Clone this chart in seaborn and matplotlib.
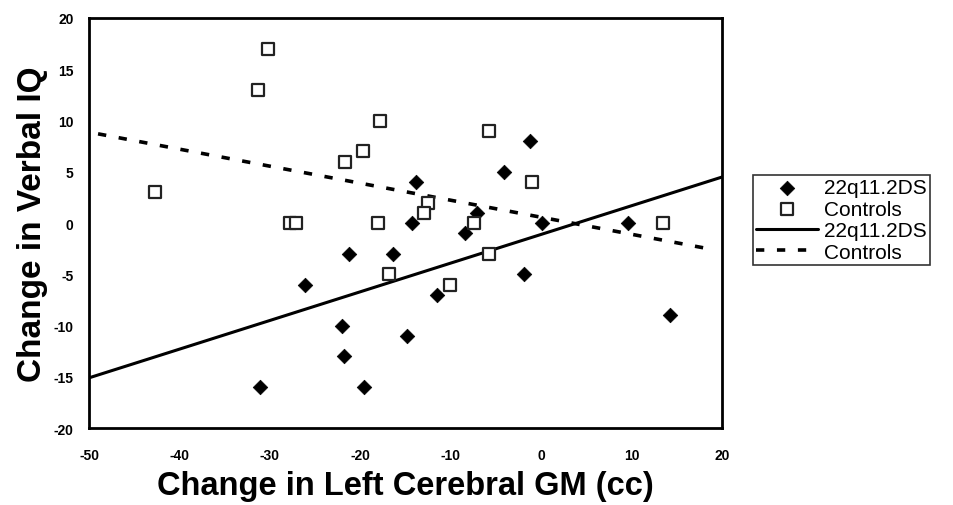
import matplotlib
matplotlib.use("Agg")
import matplotlib.pyplot as plt
import numpy as np
import pandas as pd
import seaborn as sns

# 22q11.2DS group (filled diamonds)
ds_gm = [-1.3, -4.1, -13.9, -14.3, -7.1, 0.1, 9.6, -8.5, -1.9, -11.5,
         -14.9, 14.2, -21.3, -16.4, -26.1, -22.0, -21.8, -31.1, -19.6]
ds_iq = [8, 5, 4, 0, 1, 0, 0, -1, -5, -7,
         -11, -9, -3, -3, -6, -10, -13, -16, -16]

# control group (open squares)
ctrl_gm = [-30.2, -31.3, -42.7, -17.8, -19.7, -21.7, -27.8, -27.1, -18.1,
           -16.9, -12.5, -13.0, -7.5, -5.8, -1.1, -5.8, -10.1, 13.4]
ctrl_iq = [17, 13, 3, 10, 7, 6, 0, 0, 0,
           -5, 2, 1, 0, 9, 4, -3, -6, 0]

# fitted lines, end points
fit_gm = [-50, 20]
fit_ds = [-15.1, 4.5]
fit_ctrl_gm = [-49, 19]
fit_ctrl = [8.7, -2.6]

sns.set_style("white")
plt.rcParams["font.family"] = ["Liberation Sans", "DejaVu Sans"]
plt.rcParams["axes.unicode_minus"] = False
plt.rcParams["text.color"] = "black"
plt.rcParams["axes.labelcolor"] = "black"
plt.rcParams["xtick.color"] = "black"
plt.rcParams["ytick.color"] = "black"

fig = plt.figure(figsize=(9.54, 5.06), dpi=100)
ax = fig.add_axes([0.0933, 0.152, 0.664, 0.8105])

sns.scatterplot(x=ds_gm, y=ds_iq, marker="D", s=55, color="black",
                edgecolor="black", linewidth=0.5, label="22q11.2DS", ax=ax, zorder=3)
sns.scatterplot(x=ctrl_gm, y=ctrl_iq, marker="s", s=70, facecolor="white",
                edgecolor="#222222", linewidth=1.6, label="Controls", ax=ax, zorder=3)
sns.lineplot(x=fit_gm, y=fit_ds, color="black", linewidth=2.2,
             label="22q11.2DS", ax=ax, zorder=2)
sns.lineplot(x=fit_ctrl_gm, y=fit_ctrl, color="black", linewidth=2.6,
             linestyle=(0, (2.3, 3.5)), label="Controls", ax=ax, zorder=2)

ax.set_xlim(-50, 20)
ax.set_ylim(-20, 20)
ax.set_xticks(np.arange(-50, 21, 10))
ax.set_yticks(np.arange(-20, 21, 5))
ax.tick_params(length=0, labelsize=10)
ax.tick_params(axis="x", pad=14)
ax.tick_params(axis="y", pad=11)
for lab in ax.get_xticklabels() + ax.get_yticklabels():
    lab.set_fontweight("bold")
for sp in ax.spines.values():
    sp.set_linewidth(2)
    sp.set_color("black")

ax.set_xlabel("Change in Left Cerebral GM (cc)", fontsize=23.5, fontweight="bold", labelpad=6)
ax.set_ylabel("Change in Verbal IQ", fontsize=24, fontweight="bold", labelpad=4)

leg = ax.legend(loc="upper left", bbox_to_anchor=(1.048, 0.617), fontsize=15,
                frameon=True, fancybox=False, edgecolor="black", handlelength=3.0,
                handletextpad=0.25, labelspacing=0.12, borderpad=0.15,
                borderaxespad=0.0)
leg.get_frame().set_linewidth(1.2)

fig.savefig("out.png", dpi=100)
